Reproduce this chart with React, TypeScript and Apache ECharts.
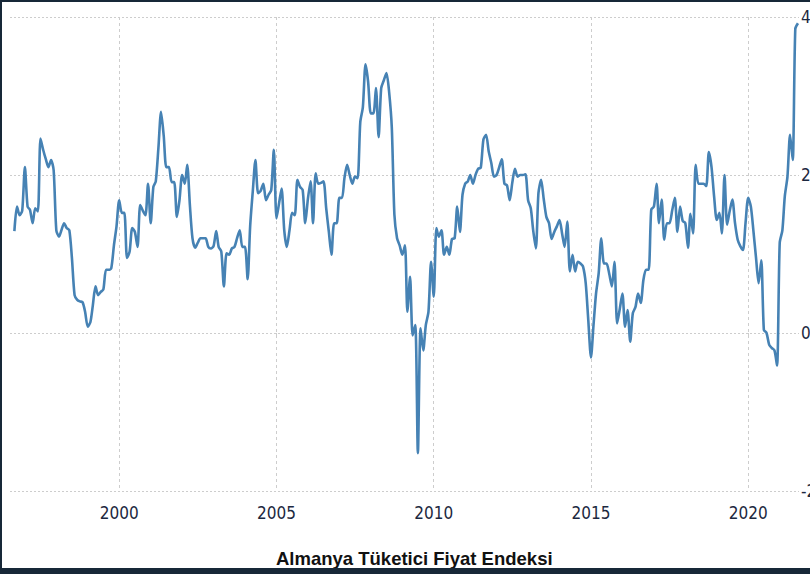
import React, { useEffect, useRef } from "react";
import * as echarts from "echarts";

// Monthly values, series starts September 1996
const START_YEAR = 1996;
const START_MONTH = 8; // 0-based: September

const v1996 = [1.29, 1.6, 1.49, 1.55];
const v1997 = [2.1, 1.6, 1.56, 1.39, 1.58, 1.54, 2.46, 2.32, 2.2, 2.1, 2.19, 2.06];
const v1998 = [1.3, 1.22, 1.3, 1.39, 1.33, 1.3, 0.95, 0.48, 0.42, 0.4, 0.39, 0.27];
const v1999 = [0.08, 0.14, 0.35, 0.59, 0.48, 0.52, 0.55, 0.8, 0.8, 0.82, 1.11, 1.35];
const v2000 = [1.68, 1.52, 1.52, 0.95, 1.03, 1.33, 1.28, 1.09, 1.62, 1.55, 1.49, 1.89];
const v2001 = [1.39, 1.85, 1.92, 2.35, 2.8, 2.5, 2.1, 2.1, 1.91, 1.91, 1.47, 1.68];
const v2002 = [2.0, 1.89, 2.13, 1.62, 1.2, 1.08, 1.14, 1.2, 1.2, 1.2, 1.09, 1.07];
const v2003 = [1.1, 1.29, 1.09, 1.03, 0.59, 1.01, 0.99, 1.07, 1.09, 1.2, 1.3, 1.09];
const v2004 = [1.09, 0.68, 1.35, 1.8, 2.19, 1.77, 1.8, 1.89, 1.68, 1.75, 1.81, 2.32];
const v2005 = [1.45, 1.65, 1.83, 1.3, 1.09, 1.3, 1.52, 1.49, 1.94, 1.85, 1.81, 1.39];
const v2006 = [1.7, 1.92, 1.39, 2.02, 1.89, 1.9, 1.92, 1.58, 1.28, 0.99, 1.39, 1.39];
const v2007 = [1.71, 1.71, 1.96, 2.13, 2.0, 1.89, 1.98, 1.96, 2.67, 2.86, 3.4, 3.18];
const v2008 = [2.78, 2.78, 3.1, 2.48, 3.1, 3.2, 3.29, 3.05, 2.6, 1.5, 1.2, 1.11];
const v2009 = [0.99, 1.11, 0.27, 0.71, -0.03, 0.1, -1.52, 0.06, -0.22, 0.1, 0.27, 0.9];
const v2010 = [0.46, 1.33, 1.22, 1.3, 0.99, 1.09, 0.99, 1.19, 1.2, 1.6, 1.28, 1.75];
const v2011 = [1.89, 1.92, 2.0, 1.89, 2.0, 2.08, 2.09, 2.45, 2.51, 2.3, 2.15, 1.98];
const v2012 = [2.0, 2.1, 2.2, 1.89, 1.87, 1.68, 1.9, 2.08, 1.98, 2.0, 2.0, 2.01];
const v2013 = [1.68, 1.58, 1.3, 1.07, 1.77, 1.94, 1.7, 1.47, 1.39, 1.19, 1.28, 1.35];
const v2014 = [1.43, 1.25, 1.09, 1.41, 0.78, 0.99, 0.78, 0.9, 0.88, 0.84, 0.63, 0.16];
const v2015 = [-0.31, 0.12, 0.5, 0.76, 1.2, 0.88, 0.88, 0.75, 0.59, 0.9, 0.12, 0.3];
const v2016 = [0.5, 0.08, 0.29, -0.11, 0.25, 0.33, 0.5, 0.38, 0.67, 0.8, 0.8, 1.56];
const v2017 = [1.6, 1.89, 1.39, 1.69, 1.18, 1.39, 1.39, 1.55, 1.71, 1.28, 1.6, 1.42];
const v2018 = [1.39, 1.08, 1.51, 1.26, 2.13, 1.89, 1.89, 1.89, 1.86, 2.29, 2.1, 1.73];
const v2019 = [1.43, 1.52, 1.26, 2.0, 1.37, 1.55, 1.69, 1.39, 1.18, 1.1, 1.05, 1.39];
const v2020 = [1.71, 1.6, 1.3, 0.95, 0.63, 0.92, 0.04, 0.0, -0.15, -0.19, -0.22, -0.41];
const v2021 = [1.14, 1.3, 1.73, 1.98, 2.51, 2.19, 3.85, 3.92];

const values = [
  ...v1996, ...v1997, ...v1998, ...v1999, ...v2000, ...v2001, ...v2002,
  ...v2003, ...v2004, ...v2005, ...v2006, ...v2007, ...v2008, ...v2009,
  ...v2010, ...v2011, ...v2012, ...v2013, ...v2014, ...v2015, ...v2016,
  ...v2017, ...v2018, ...v2019, ...v2020, ...v2021,
];

const yearTicks = [2000, 2005, 2010, 2015, 2020];
const Y_MIN = -2;
const Y_MAX = 4;
const Y_STEP = 2;
const TITLE = "Almanya Tüketici Fiyat Endeksi";

export default function App() {
  const ref = useRef<HTMLDivElement>(null);

  useEffect(() => {
    if (!ref.current) return;
    const chart = echarts.init(ref.current, null, { renderer: "svg" });
    const data = values.map((v, i) => [Date.UTC(START_YEAR, START_MONTH + i, 1), v]);
    const tickTs = yearTicks.map((y) => Date.UTC(y, 0, 1));
    const labelFont = "'Liberation Sans Narrow', 'DejaVu Sans Condensed', 'Arial Narrow', sans-serif";
    const gridColor = "#cdcdcd";

    chart.setOption({
      animation: false,
      backgroundColor: "#ffffff",
      title: {
        text: TITLE,
        left: 274,
        top: 547,
        padding: 0,
        textStyle: {
          fontFamily: "'Liberation Sans', Arial, sans-serif",
          fontWeight: "bold",
          fontSize: 18.5,
          color: "#111111",
        },
      },
      grid: {
        left: 8,
        right: 11,
        top: 15,
        bottom: 77,
        containLabel: false,
        outerBoundsMode: "none",
      },
      xAxis: {
        type: "value",
        min: Date.UTC(1996, 6, 12),
        max: Date.UTC(2021, 7, 13),
        axisLine: { show: false },
        axisTick: {
          show: true,
          customValues: tickTs,
          length: 6,
          lineStyle: { color: gridColor, type: [3, 3], width: 1 },
        },
        axisLabel: {
          customValues: tickTs,
          formatter: (v: number) => String(new Date(v).getUTCFullYear()),
          margin: 13,
          fontFamily: labelFont,
          fontSize: 17,
          color: "#1c2840",
        },
        splitLine: {
          show: true,
          lineStyle: { color: gridColor, type: [3, 3], width: 1 },
        },
      },
      yAxis: {
        type: "value",
        position: "right",
        min: Y_MIN,
        max: Y_MAX,
        interval: Y_STEP,
        axisLine: { show: false },
        axisTick: { show: false },
        axisLabel: {
          margin: 2,
          fontFamily: labelFont,
          fontSize: 17,
          color: "#1c2840",
        },
        splitLine: {
          show: true,
          lineStyle: { color: gridColor, type: [2, 2], width: 1 },
        },
      },
      series: [
        {
          type: "line",
          data,
          showSymbol: false,
          smooth: 0.25,
          lineStyle: { color: "#4682b4", width: 2.6 },
          itemStyle: { color: "#4682b4" },
        },
      ],
    });

    return () => chart.dispose();
  }, []);

  return (
    <div
      style={{
        position: "fixed",
        left: 0,
        top: 0,
        width: 810,
        height: 574,
        background: "#172838",
        overflow: "hidden",
      }}
    >
      <div
        ref={ref}
        style={{ position: "absolute", left: 2, top: 2, width: 808, height: 566 }}
      />
    </div>
  );
}
